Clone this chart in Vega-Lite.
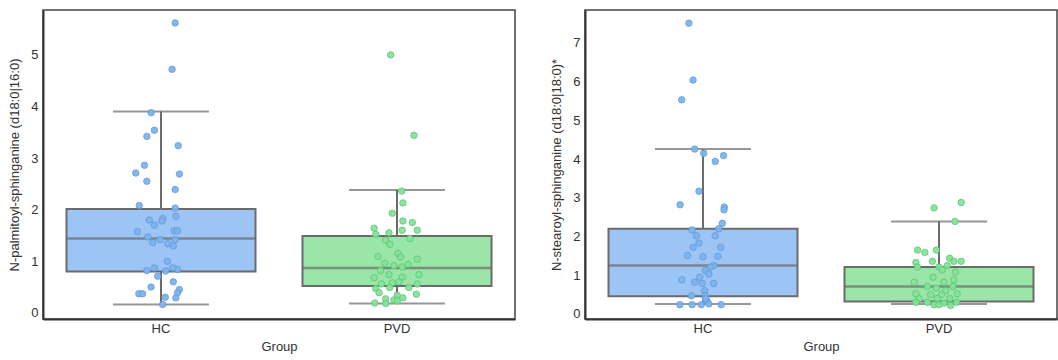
{
"$schema": "https://vega.github.io/schema/vega-lite/v6.json",
"padding": {"left": 8, "top": 9, "right": 0, "bottom": 0},
"background": "white",
"spacing": 34,
"config": {
  "font": "Liberation Sans",
  "view": {"stroke": "#444", "strokeWidth": 1.5},
  "axis": {"grid": false, "ticks": false, "domainColor": "#333", "domainWidth": 2, "labelFontSize": 13, "labelColor": "#333", "titleFontSize": 13, "titleColor": "#333", "titleFontWeight": "normal", "labelPadding": 5, "labelFlush": false}
},
"datasets": {
"box": [
 {"panel":"A","Group":"HC","lo":0.16,"q1":0.80,"med":1.44,"q3":2.01,"hi":3.90},
 {"panel":"A","Group":"PVD","lo":0.18,"q1":0.52,"med":0.87,"q3":1.49,"hi":2.38},
 {"panel":"B","Group":"HC","lo":0.26,"q1":0.46,"med":1.25,"q3":2.20,"hi":4.26},
 {"panel":"B","Group":"PVD","lo":0.26,"q1":0.32,"med":0.71,"q3":1.21,"hi":2.39}
],
"pts": [
 {"panel":"A","Group":"HC","value":5.62,"jitter":0.06},
 {"panel":"A","Group":"HC","value":4.72,"jitter":0.047},
 {"panel":"A","Group":"HC","value":3.88,"jitter":-0.042},
 {"panel":"A","Group":"HC","value":3.54,"jitter":-0.028},
 {"panel":"A","Group":"HC","value":3.42,"jitter":-0.06},
 {"panel":"A","Group":"HC","value":3.24,"jitter":0.073},
 {"panel":"A","Group":"HC","value":2.86,"jitter":-0.07},
 {"panel":"A","Group":"HC","value":2.71,"jitter":-0.107},
 {"panel":"A","Group":"HC","value":2.69,"jitter":0.078},
 {"panel":"A","Group":"HC","value":2.55,"jitter":-0.06},
 {"panel":"A","Group":"HC","value":2.39,"jitter":0.06},
 {"panel":"A","Group":"HC","value":2.08,"jitter":-0.092},
 {"panel":"A","Group":"HC","value":2.03,"jitter":0.06},
 {"panel":"A","Group":"HC","value":1.87,"jitter":0.063},
 {"panel":"A","Group":"HC","value":1.80,"jitter":-0.05},
 {"panel":"A","Group":"HC","value":1.83,"jitter":0.008},
 {"panel":"A","Group":"HC","value":1.78,"jitter":0.004},
 {"panel":"A","Group":"HC","value":1.70,"jitter":-0.028},
 {"panel":"A","Group":"HC","value":1.57,"jitter":-0.1},
 {"panel":"A","Group":"HC","value":1.59,"jitter":0.056},
 {"panel":"A","Group":"HC","value":1.59,"jitter":0.07},
 {"panel":"A","Group":"HC","value":1.47,"jitter":-0.056},
 {"panel":"A","Group":"HC","value":1.42,"jitter":-0.004},
 {"panel":"A","Group":"HC","value":1.42,"jitter":0.06},
 {"panel":"A","Group":"HC","value":1.36,"jitter":-0.035},
 {"panel":"A","Group":"HC","value":1.34,"jitter":0.028},
 {"panel":"A","Group":"HC","value":1.30,"jitter":0.052},
 {"panel":"A","Group":"HC","value":1.00,"jitter":0.027},
 {"panel":"A","Group":"HC","value":0.84,"jitter":0.07},
 {"panel":"A","Group":"HC","value":0.82,"jitter":-0.06},
 {"panel":"A","Group":"HC","value":0.87,"jitter":-0.028},
 {"panel":"A","Group":"HC","value":0.81,"jitter":0.02},
 {"panel":"A","Group":"HC","value":0.87,"jitter":0.05},
 {"panel":"A","Group":"HC","value":0.71,"jitter":-0.014},
 {"panel":"A","Group":"HC","value":0.60,"jitter":0.052},
 {"panel":"A","Group":"HC","value":0.50,"jitter":-0.042},
 {"panel":"A","Group":"HC","value":0.45,"jitter":0.078},
 {"panel":"A","Group":"HC","value":0.37,"jitter":-0.094},
 {"panel":"A","Group":"HC","value":0.37,"jitter":-0.078},
 {"panel":"A","Group":"HC","value":0.39,"jitter":0.07},
 {"panel":"A","Group":"HC","value":0.30,"jitter":0.018},
 {"panel":"A","Group":"HC","value":0.29,"jitter":0.063},
 {"panel":"A","Group":"HC","value":0.16,"jitter":0.007},
 {"panel":"A","Group":"PVD","value":5.00,"jitter":-0.027},
 {"panel":"A","Group":"PVD","value":3.44,"jitter":0.072},
 {"panel":"A","Group":"PVD","value":2.36,"jitter":0.02},
 {"panel":"A","Group":"PVD","value":2.13,"jitter":0.025},
 {"panel":"A","Group":"PVD","value":1.93,"jitter":-0.02},
 {"panel":"A","Group":"PVD","value":1.78,"jitter":0.025},
 {"panel":"A","Group":"PVD","value":1.75,"jitter":0.065},
 {"panel":"A","Group":"PVD","value":1.64,"jitter":-0.097},
 {"panel":"A","Group":"PVD","value":1.60,"jitter":0.086},
 {"panel":"A","Group":"PVD","value":1.60,"jitter":0.022},
 {"panel":"A","Group":"PVD","value":1.55,"jitter":-0.034},
 {"panel":"A","Group":"PVD","value":1.52,"jitter":-0.09},
 {"panel":"A","Group":"PVD","value":1.44,"jitter":0.055},
 {"panel":"A","Group":"PVD","value":1.41,"jitter":-0.048},
 {"panel":"A","Group":"PVD","value":1.33,"jitter":-0.03},
 {"panel":"A","Group":"PVD","value":1.15,"jitter":0.004},
 {"panel":"A","Group":"PVD","value":1.09,"jitter":-0.08},
 {"panel":"A","Group":"PVD","value":1.04,"jitter":0.086},
 {"panel":"A","Group":"PVD","value":1.08,"jitter":0.015},
 {"panel":"A","Group":"PVD","value":0.96,"jitter":-0.052},
 {"panel":"A","Group":"PVD","value":0.91,"jitter":-0.013},
 {"panel":"A","Group":"PVD","value":0.89,"jitter":0.022},
 {"panel":"A","Group":"PVD","value":0.94,"jitter":0.047},
 {"panel":"A","Group":"PVD","value":0.82,"jitter":-0.07},
 {"panel":"A","Group":"PVD","value":0.74,"jitter":-0.034},
 {"panel":"A","Group":"PVD","value":0.74,"jitter":0.093},
 {"panel":"A","Group":"PVD","value":0.68,"jitter":-0.097},
 {"panel":"A","Group":"PVD","value":0.69,"jitter":0.022},
 {"panel":"A","Group":"PVD","value":0.56,"jitter":-0.066},
 {"panel":"A","Group":"PVD","value":0.58,"jitter":-0.02},
 {"panel":"A","Group":"PVD","value":0.60,"jitter":0.008},
 {"panel":"A","Group":"PVD","value":0.56,"jitter":0.086},
 {"panel":"A","Group":"PVD","value":0.47,"jitter":-0.09},
 {"panel":"A","Group":"PVD","value":0.49,"jitter":-0.031},
 {"panel":"A","Group":"PVD","value":0.49,"jitter":0.05},
 {"panel":"A","Group":"PVD","value":0.39,"jitter":-0.076},
 {"panel":"A","Group":"PVD","value":0.34,"jitter":0.001},
 {"panel":"A","Group":"PVD","value":0.36,"jitter":0.082},
 {"panel":"A","Group":"PVD","value":0.27,"jitter":-0.048},
 {"panel":"A","Group":"PVD","value":0.29,"jitter":0.025},
 {"panel":"A","Group":"PVD","value":0.25,"jitter":-0.013},
 {"panel":"A","Group":"PVD","value":0.19,"jitter":-0.094},
 {"panel":"A","Group":"PVD","value":0.18,"jitter":-0.048},
 {"panel":"A","Group":"PVD","value":0.23,"jitter":0.001},
 {"panel":"B","Group":"HC","value":7.51,"jitter":-0.06},
 {"panel":"B","Group":"HC","value":6.04,"jitter":-0.042},
 {"panel":"B","Group":"HC","value":5.53,"jitter":-0.09},
 {"panel":"B","Group":"HC","value":4.26,"jitter":-0.035},
 {"panel":"B","Group":"HC","value":4.15,"jitter":0.003},
 {"panel":"B","Group":"HC","value":4.09,"jitter":0.087},
 {"panel":"B","Group":"HC","value":3.94,"jitter":0.052},
 {"panel":"B","Group":"HC","value":3.17,"jitter":-0.017},
 {"panel":"B","Group":"HC","value":2.82,"jitter":-0.097},
 {"panel":"B","Group":"HC","value":2.76,"jitter":0.09},
 {"panel":"B","Group":"HC","value":2.69,"jitter":0.089},
 {"panel":"B","Group":"HC","value":2.34,"jitter":0.082},
 {"panel":"B","Group":"HC","value":2.20,"jitter":0.067},
 {"panel":"B","Group":"HC","value":2.17,"jitter":-0.046},
 {"panel":"B","Group":"HC","value":2.02,"jitter":-0.028},
 {"panel":"B","Group":"HC","value":2.02,"jitter":0.052},
 {"panel":"B","Group":"HC","value":1.83,"jitter":-0.017},
 {"panel":"B","Group":"HC","value":1.72,"jitter":0.075},
 {"panel":"B","Group":"HC","value":1.72,"jitter":-0.042},
 {"panel":"B","Group":"HC","value":1.51,"jitter":-0.066},
 {"panel":"B","Group":"HC","value":1.49,"jitter":0.063},
 {"panel":"B","Group":"HC","value":1.48,"jitter":0.0},
 {"panel":"B","Group":"HC","value":1.25,"jitter":0.046},
 {"panel":"B","Group":"HC","value":1.21,"jitter":0.032},
 {"panel":"B","Group":"HC","value":1.12,"jitter":0.01},
 {"panel":"B","Group":"HC","value":1.03,"jitter":0.025},
 {"panel":"B","Group":"HC","value":0.88,"jitter":-0.09},
 {"panel":"B","Group":"HC","value":0.95,"jitter":-0.014},
 {"panel":"B","Group":"HC","value":0.82,"jitter":-0.035},
 {"panel":"B","Group":"HC","value":0.79,"jitter":0.045},
 {"panel":"B","Group":"HC","value":0.79,"jitter":-0.003},
 {"panel":"B","Group":"HC","value":0.60,"jitter":0.007},
 {"panel":"B","Group":"HC","value":0.47,"jitter":-0.049},
 {"panel":"B","Group":"HC","value":0.47,"jitter":0.01},
 {"panel":"B","Group":"HC","value":0.34,"jitter":0.017},
 {"panel":"B","Group":"HC","value":0.39,"jitter":0.01},
 {"panel":"B","Group":"HC","value":0.24,"jitter":-0.098},
 {"panel":"B","Group":"HC","value":0.24,"jitter":-0.046},
 {"panel":"B","Group":"HC","value":0.24,"jitter":-0.007},
 {"panel":"B","Group":"HC","value":0.26,"jitter":0.025},
 {"panel":"B","Group":"HC","value":0.24,"jitter":0.077},
 {"panel":"B","Group":"PVD","value":2.88,"jitter":0.094},
 {"panel":"B","Group":"PVD","value":2.74,"jitter":-0.021},
 {"panel":"B","Group":"PVD","value":2.39,"jitter":0.068},
 {"panel":"B","Group":"PVD","value":1.65,"jitter":-0.091},
 {"panel":"B","Group":"PVD","value":1.59,"jitter":-0.06},
 {"panel":"B","Group":"PVD","value":1.65,"jitter":-0.011},
 {"panel":"B","Group":"PVD","value":1.44,"jitter":0.045},
 {"panel":"B","Group":"PVD","value":1.33,"jitter":-0.098},
 {"panel":"B","Group":"PVD","value":1.36,"jitter":-0.028},
 {"panel":"B","Group":"PVD","value":1.36,"jitter":0.094},
 {"panel":"B","Group":"PVD","value":1.36,"jitter":0.063},
 {"panel":"B","Group":"PVD","value":1.21,"jitter":-0.091},
 {"panel":"B","Group":"PVD","value":1.21,"jitter":0.0},
 {"panel":"B","Group":"PVD","value":1.25,"jitter":0.035},
 {"panel":"B","Group":"PVD","value":1.14,"jitter":0.014},
 {"panel":"B","Group":"PVD","value":1.08,"jitter":0.07},
 {"panel":"B","Group":"PVD","value":0.95,"jitter":-0.025},
 {"panel":"B","Group":"PVD","value":0.82,"jitter":-0.105},
 {"panel":"B","Group":"PVD","value":0.82,"jitter":0.021},
 {"panel":"B","Group":"PVD","value":0.88,"jitter":0.063},
 {"panel":"B","Group":"PVD","value":0.71,"jitter":-0.049},
 {"panel":"B","Group":"PVD","value":0.67,"jitter":-0.011},
 {"panel":"B","Group":"PVD","value":0.71,"jitter":0.059},
 {"panel":"B","Group":"PVD","value":0.60,"jitter":0.028},
 {"panel":"B","Group":"PVD","value":0.52,"jitter":-0.098},
 {"panel":"B","Group":"PVD","value":0.50,"jitter":-0.035},
 {"panel":"B","Group":"PVD","value":0.50,"jitter":0.01},
 {"panel":"B","Group":"PVD","value":0.52,"jitter":0.077},
 {"panel":"B","Group":"PVD","value":0.39,"jitter":-0.084},
 {"panel":"B","Group":"PVD","value":0.40,"jitter":-0.007},
 {"panel":"B","Group":"PVD","value":0.40,"jitter":0.045},
 {"panel":"B","Group":"PVD","value":0.30,"jitter":-0.098},
 {"panel":"B","Group":"PVD","value":0.30,"jitter":-0.049},
 {"panel":"B","Group":"PVD","value":0.28,"jitter":0.021},
 {"panel":"B","Group":"PVD","value":0.30,"jitter":0.075},
 {"panel":"B","Group":"PVD","value":0.24,"jitter":-0.021},
 {"panel":"B","Group":"PVD","value":0.24,"jitter":0.0},
 {"panel":"B","Group":"PVD","value":0.22,"jitter":0.049}
]
},
"hconcat": [
{
 "width": 472, "height": 309,
 "encoding": {
   "x": {"field": "Group", "type": "nominal", "scale": {"domain": ["HC","PVD"], "paddingInner": 0, "paddingOuter": 0}, "axis": {"title": "Group", "labelAngle": 0, "labelPadding": 3, "titlePadding": 5}}
 },
 "layer": [
  {"data": {"name": "box"}, "transform": [{"filter": "datum.panel === 'A'"}],
   "mark": {"type": "rule", "stroke": "#6b6b6b", "strokeWidth": 2},
   "encoding": {"y": {"field": "lo", "type": "quantitative", "title": "N-palmitoyl-sphinganine (d18:0|16:0)", "scale": {"domain": [-0.12, 5.87], "nice": false, "zero": false}, "axis": {"values": [0,1,2,3,4,5], "titlePadding": 9}}, "y2": {"field": "hi"}}},
  {"data": {"name": "box"}, "transform": [{"filter": "datum.panel === 'A'"}],
   "mark": {"type": "tick", "color": "#6b6b6b", "thickness": 2, "size": 96, "orient": "horizontal"},
   "encoding": {"y": {"field": "lo", "type": "quantitative", "title": "N-palmitoyl-sphinganine (d18:0|16:0)"}}},
  {"data": {"name": "box"}, "transform": [{"filter": "datum.panel === 'A'"}],
   "mark": {"type": "tick", "color": "#6b6b6b", "thickness": 2, "size": 96, "orient": "horizontal"},
   "encoding": {"y": {"field": "hi", "type": "quantitative", "title": "N-palmitoyl-sphinganine (d18:0|16:0)"}}},
  {"data": {"name": "box"}, "transform": [{"filter": "datum.panel === 'A'"}],
   "mark": {"type": "bar", "stroke": "#6b6b6b", "strokeWidth": 2, "width": 189, "opacity": 1},
   "encoding": {"y": {"field": "q1", "type": "quantitative", "title": "N-palmitoyl-sphinganine (d18:0|16:0)"}, "y2": {"field": "q3"},
     "fill": {"field": "Group", "type": "nominal", "scale": {"domain": ["HC","PVD"], "range": ["#9cc4f4", "#9ae6a8"]}, "legend": null}}},
  {"data": {"name": "box"}, "transform": [{"filter": "datum.panel === 'A'"}],
   "mark": {"type": "tick", "color": "#6b6b6b", "thickness": 2.5, "size": 189, "orient": "horizontal"},
   "encoding": {"y": {"field": "med", "type": "quantitative", "title": "N-palmitoyl-sphinganine (d18:0|16:0)"}}},
  {"data": {"name": "pts"}, "transform": [{"filter": "datum.panel === 'A'"}],
   "mark": {"type": "circle", "size": 42, "opacity": 0.95, "strokeWidth": 0.8},
   "encoding": {"y": {"field": "value", "type": "quantitative", "title": "N-palmitoyl-sphinganine (d18:0|16:0)"},
     "xOffset": {"field": "jitter", "type": "quantitative", "scale": {"domain": [-0.5, 0.5], "range": [0, 236]}},
     "color": {"field": "Group", "type": "nominal", "scale": {"domain": ["HC","PVD"], "range": ["#7db4ef", "#84e39a"]}, "legend": null},
     "stroke": {"field": "Group", "type": "nominal", "scale": {"domain": ["HC","PVD"], "range": ["#5f98d6", "#5cc274"]}, "legend": null}}}
 ],
 "resolve": {"scale": {"fill": "independent", "color": "independent"}}
},
{
 "width": 472, "height": 309,
 "encoding": {
   "x": {"field": "Group", "type": "nominal", "scale": {"domain": ["HC","PVD"], "paddingInner": 0, "paddingOuter": 0}, "axis": {"title": "Group", "labelAngle": 0, "labelPadding": 3, "titlePadding": 5}}
 },
 "layer": [
  {"data": {"name": "box"}, "transform": [{"filter": "datum.panel === 'B'"}],
   "mark": {"type": "rule", "stroke": "#6b6b6b", "strokeWidth": 2},
   "encoding": {"y": {"field": "lo", "type": "quantitative", "title": "N-stearoyl-sphinganine (d18:0|18:0)*", "scale": {"domain": [-0.13, 7.85], "nice": false, "zero": false}, "axis": {"values": [0,1,2,3,4,5,6,7], "titlePadding": 9}}, "y2": {"field": "hi"}}},
  {"data": {"name": "box"}, "transform": [{"filter": "datum.panel === 'B'"}],
   "mark": {"type": "tick", "color": "#6b6b6b", "thickness": 2, "size": 96, "orient": "horizontal"},
   "encoding": {"y": {"field": "lo", "type": "quantitative", "title": "N-stearoyl-sphinganine (d18:0|18:0)*"}}},
  {"data": {"name": "box"}, "transform": [{"filter": "datum.panel === 'B'"}],
   "mark": {"type": "tick", "color": "#6b6b6b", "thickness": 2, "size": 96, "orient": "horizontal"},
   "encoding": {"y": {"field": "hi", "type": "quantitative", "title": "N-stearoyl-sphinganine (d18:0|18:0)*"}}},
  {"data": {"name": "box"}, "transform": [{"filter": "datum.panel === 'B'"}],
   "mark": {"type": "bar", "stroke": "#6b6b6b", "strokeWidth": 2, "width": 189, "opacity": 1},
   "encoding": {"y": {"field": "q1", "type": "quantitative", "title": "N-stearoyl-sphinganine (d18:0|18:0)*"}, "y2": {"field": "q3"},
     "fill": {"field": "Group", "type": "nominal", "scale": {"domain": ["HC","PVD"], "range": ["#9cc4f4", "#9ae6a8"]}, "legend": null}}},
  {"data": {"name": "box"}, "transform": [{"filter": "datum.panel === 'B'"}],
   "mark": {"type": "tick", "color": "#6b6b6b", "thickness": 2.5, "size": 189, "orient": "horizontal"},
   "encoding": {"y": {"field": "med", "type": "quantitative", "title": "N-stearoyl-sphinganine (d18:0|18:0)*"}}},
  {"data": {"name": "pts"}, "transform": [{"filter": "datum.panel === 'B'"}],
   "mark": {"type": "circle", "size": 42, "opacity": 0.95, "strokeWidth": 0.8},
   "encoding": {"y": {"field": "value", "type": "quantitative", "title": "N-stearoyl-sphinganine (d18:0|18:0)*"},
     "xOffset": {"field": "jitter", "type": "quantitative", "scale": {"domain": [-0.5, 0.5], "range": [0, 236]}},
     "color": {"field": "Group", "type": "nominal", "scale": {"domain": ["HC","PVD"], "range": ["#7db4ef", "#84e39a"]}, "legend": null},
     "stroke": {"field": "Group", "type": "nominal", "scale": {"domain": ["HC","PVD"], "range": ["#5f98d6", "#5cc274"]}, "legend": null}}}
 ],
 "resolve": {"scale": {"fill": "independent", "color": "independent"}}
}
]
}
